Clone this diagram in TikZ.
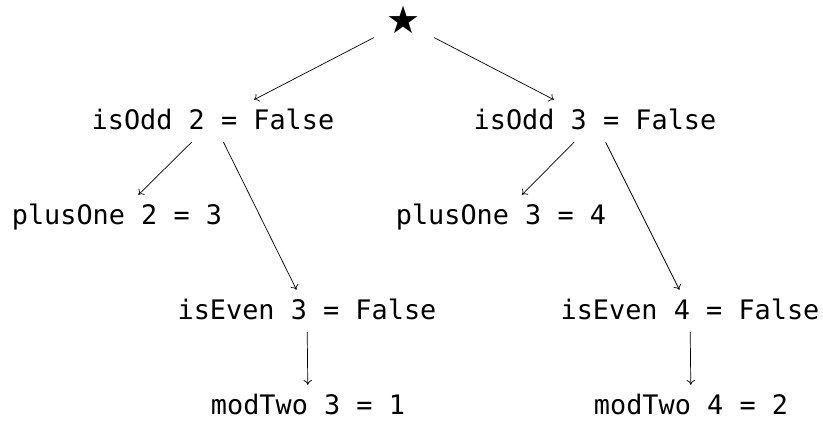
\documentclass[tikz,border=0pt]{standalone}
\usepackage{fontspec}
\usetikzlibrary{arrows.meta}
\setmonofont{DejaVu Sans Mono}
\newfontfamily\symfont{DejaVu Sans}

\begin{document}
\begin{tikzpicture}[x=0.025cm, y=-0.025cm, >={To[length=3.4pt, width=6pt]}, line width=0.5pt,
    every node/.style={font=\ttfamily\fontsize{19.1}{23}\selectfont,
      text height=15.3pt, text depth=3.8pt, inner sep=5.3pt}]
        \useasboundingbox (0, 0) rectangle (823, 421);
        % root
        \node (root) [inner xsep=9pt, text height=16pt, text depth=0pt] at (404, 22) {\symfont\fontsize{27}{30}\selectfont ★};
        % first level
        \node (odd2) at (213, 121) {isOdd 2 = False};
        \node (odd3) at (595, 121) {isOdd 3 = False};
        % second level
        \node (one2) at (117, 216) {plusOne 2 = 3};
        \node (one3) at (501, 216) {plusOne 3 = 4};
        \node (even3) at (307, 311) {isEven 3 = False};
        \node (even4) at (690, 311) {isEven 4 = False};
        % leaves
        \node (mod3) at (308, 406) {modTwo 3 = 1};
        \node (mod4) at (691, 406) {modTwo 4 = 2};
        \draw [->] (root) -- (odd2);
        \draw [->] (root) -- (odd3);
        \draw [->] (odd2) -- (one2);
        \draw [->] (odd2) -- (even3);
        \draw [->] (odd3) -- (one3);
        \draw [->] (odd3) -- (even4);
        \draw [->] (even3) -- (mod3);
        \draw [->] (even4) -- (mod4);
\end{tikzpicture}
\end{document}
